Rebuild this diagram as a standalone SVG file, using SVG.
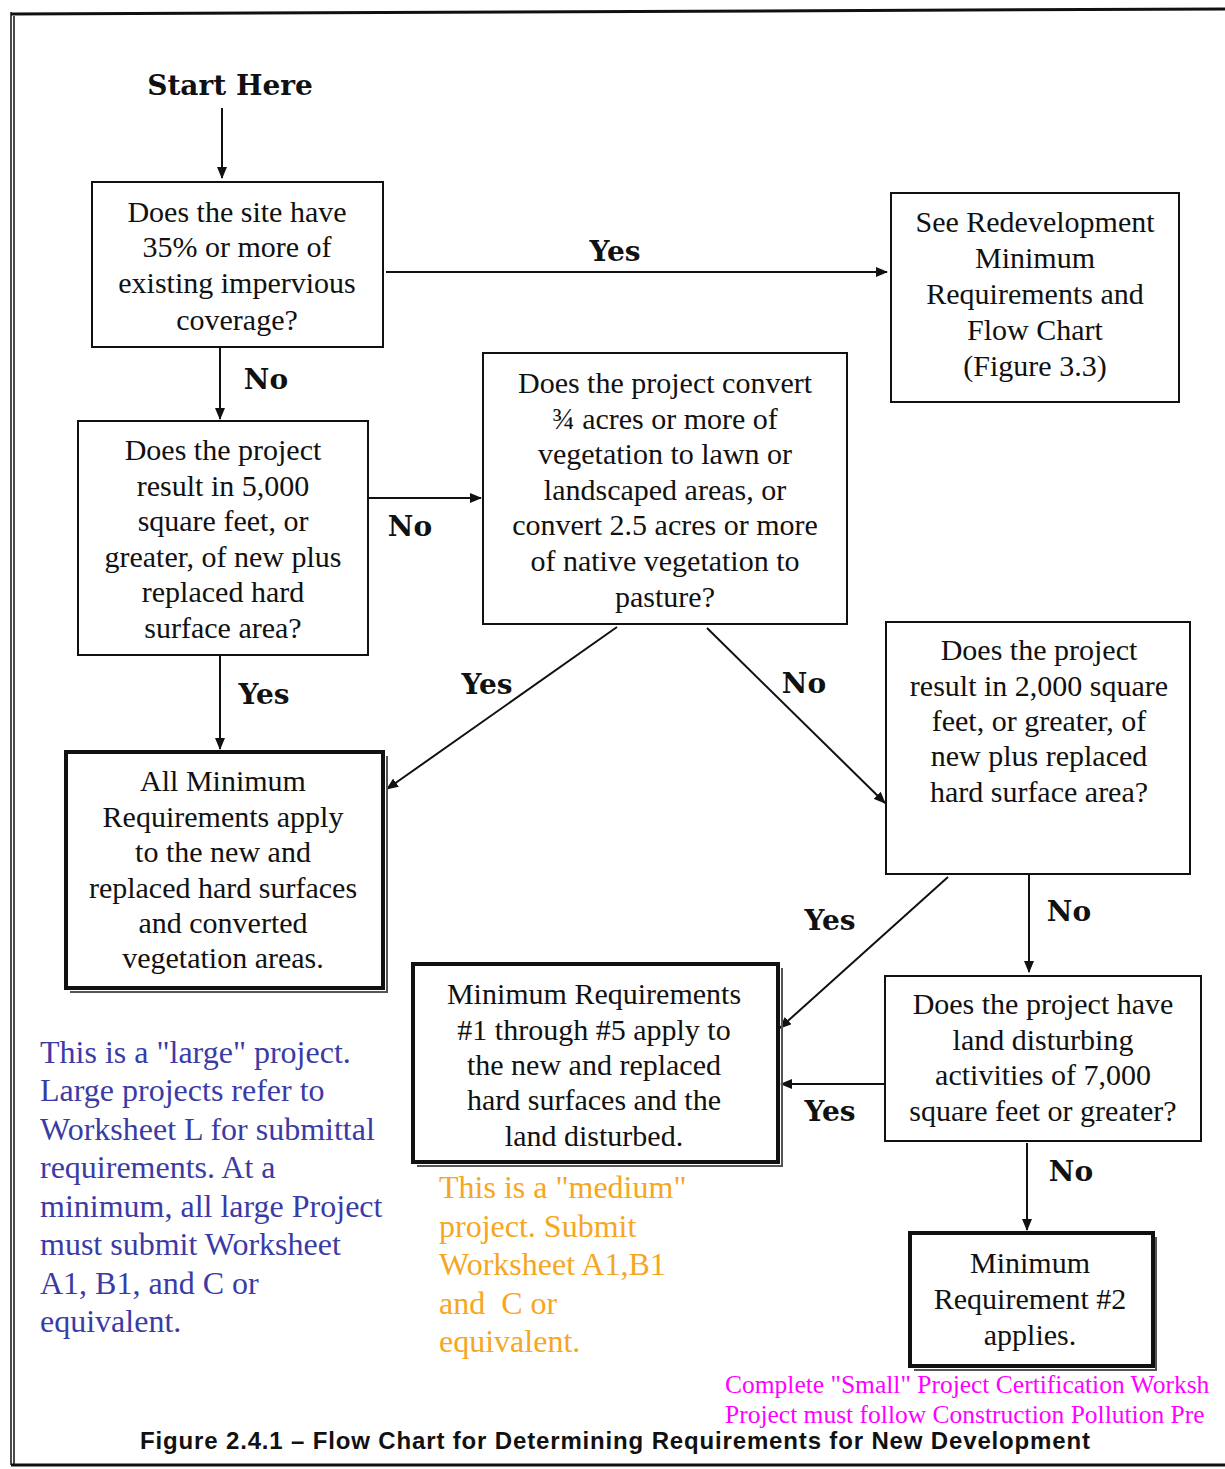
<svg xmlns="http://www.w3.org/2000/svg" width="1225" height="1469" viewBox="0 0 1225 1469">
<defs>
<marker id="ah" markerWidth="12" markerHeight="10" refX="11" refY="5" orient="auto" markerUnits="userSpaceOnUse">
<path d="M0,0 L12,5 L0,10 Z" fill="#111"/>
</marker>
<style>
.bx{fill:#fff;stroke:#111;stroke-width:2}
.tk{fill:#fff;stroke:#111;stroke-width:4}
.sh{fill:none;stroke:#555;stroke-width:2}
.t{font-family:"Liberation Serif","Times New Roman",serif;font-size:30px;fill:#111;text-anchor:middle}
.lb{font-family:"DejaVu Serif",serif;font-weight:bold;font-size:28px;fill:#111;text-anchor:middle}
.c{fill:none;stroke:#111;stroke-width:2;marker-end:url(#ah)}
.blue{font-family:"Liberation Serif",serif;font-size:32px;fill:#3b3ba6}
.orange{font-family:"Liberation Serif",serif;font-size:32px;fill:#f5a623}
.pink{font-family:"Liberation Serif",serif;font-size:25.5px;fill:#ff00ff}
</style>
</defs>
<rect width="1225" height="1469" fill="#fff"/>
<g id="frame" fill="none" stroke="#111">
<path d="M11,14 L1225,9" stroke-width="3"/>
<path d="M11,12 L11,1465 M14,16 L14,1465" stroke-width="1.5"/>
<path d="M11,1465 L1225,1465" stroke-width="3"/>
</g>
<g id="connectors">
<path class="c" d="M222,108 L222,178"/>
<path class="c" d="M386,272 L887,272"/>
<path class="c" d="M220,347 L220,419"/>
<path class="c" d="M369,498 L481,498"/>
<path class="c" d="M220,655 L220,749"/>
<path class="c" d="M617,627 L387,789"/>
<path class="c" d="M707,628 L885,803"/>
<path class="c" d="M948,877 L780,1028"/>
<path class="c" d="M1029,874 L1029,972"/>
<path class="c" d="M885,1084 L781,1084"/>
<path class="c" d="M1027,1143 L1027,1230"/>
<text class="lb" x="230" y="95">Start Here</text>
<text class="lb" x="615" y="261">Yes</text>
<text class="lb" x="266" y="389">No</text>
<text class="lb" x="410" y="536">No</text>
<text class="lb" x="264" y="704">Yes</text>
<text class="lb" x="487" y="694">Yes</text>
<text class="lb" x="804" y="693">No</text>
<text class="lb" x="830" y="930">Yes</text>
<text class="lb" x="1069" y="921">No</text>
<text class="lb" x="830" y="1121">Yes</text>
<text class="lb" x="1071" y="1181">No</text>
</g>
<g id="n1">
<rect class="bx" x="92" y="182" width="291" height="165"/>
<text class="t" x="237" y="222">Does the site have</text>
<text class="t" x="237" y="257">35% or more of</text>
<text class="t" x="237" y="293">existing impervious</text>
<text class="t" x="237" y="330">coverage?</text>
</g>
<g id="n2">
<rect class="bx" x="891" y="193" width="288" height="209"/>
<text class="t" x="1035" y="232">See Redevelopment</text>
<text class="t" x="1035" y="268">Minimum</text>
<text class="t" x="1035" y="304">Requirements and</text>
<text class="t" x="1035" y="340">Flow Chart</text>
<text class="t" x="1035" y="376">(Figure 3.3)</text>
</g>
<g id="n3">
<rect class="bx" x="78" y="421" width="290" height="234"/>
<text class="t" x="223" y="460">Does the project</text>
<text class="t" x="223" y="496">result in 5,000</text>
<text class="t" x="223" y="531">square feet, or</text>
<text class="t" x="223" y="567">greater, of new plus</text>
<text class="t" x="223" y="602">replaced hard</text>
<text class="t" x="223" y="638">surface area?</text>
</g>
<g id="n4">
<rect class="bx" x="483" y="353" width="364" height="271"/>
<text class="t" x="665" y="393">Does the project convert</text>
<text class="t" x="665" y="429">¾ acres or more of</text>
<text class="t" x="665" y="464">vegetation to lawn or</text>
<text class="t" x="665" y="500">landscaped areas, or</text>
<text class="t" x="665" y="535">convert 2.5 acres or more</text>
<text class="t" x="665" y="571">of native vegetation to</text>
<text class="t" x="665" y="607">pasture?</text>
</g>
<g id="n5">
<path class="sh" d="M387,756 L387,992 L70,992"/>
<rect class="tk" x="66" y="752" width="317" height="236"/>
<text class="t" x="223" y="791">All Minimum</text>
<text class="t" x="223" y="827">Requirements apply</text>
<text class="t" x="223" y="862">to the new and</text>
<text class="t" x="223" y="898">replaced hard surfaces</text>
<text class="t" x="223" y="933">and converted</text>
<text class="t" x="223" y="968">vegetation areas.</text>
</g>
<g id="n6">
<rect class="bx" x="886" y="622" width="304" height="252"/>
<text class="t" x="1039" y="660">Does the project</text>
<text class="t" x="1039" y="696">result in 2,000 square</text>
<text class="t" x="1039" y="731">feet, or greater, of</text>
<text class="t" x="1039" y="766">new plus replaced</text>
<text class="t" x="1039" y="802">hard surface area?</text>
</g>
<g id="n7">
<path class="sh" d="M782,968 L782,1166 L417,1166"/>
<rect class="tk" x="413" y="964" width="365" height="198"/>
<text class="t" x="594" y="1004">Minimum Requirements</text>
<text class="t" x="594" y="1040">#1 through #5 apply to</text>
<text class="t" x="594" y="1075">the new and replaced</text>
<text class="t" x="594" y="1110">hard surfaces and the</text>
<text class="t" x="594" y="1146">land disturbed.</text>
</g>
<g id="n8">
<rect class="bx" x="885" y="976" width="316" height="165"/>
<text class="t" x="1043" y="1014">Does the project have</text>
<text class="t" x="1043" y="1050">land disturbing</text>
<text class="t" x="1043" y="1085">activities of 7,000</text>
<text class="t" x="1043" y="1121">square feet or greater?</text>
</g>
<g id="n9">
<path class="sh" d="M1156,1237 L1156,1370 L914,1370"/>
<rect class="tk" x="910" y="1233" width="243" height="133"/>
<text class="t" x="1030" y="1273">Minimum</text>
<text class="t" x="1030" y="1309">Requirement #2</text>
<text class="t" x="1030" y="1345">applies.</text>
</g>
<g id="notes">
<text class="blue" x="40" y="1063">This is a "large" project.</text>
<text class="blue" x="40" y="1101">Large projects refer to</text>
<text class="blue" x="40" y="1140">Worksheet L for submittal</text>
<text class="blue" x="40" y="1178">requirements. At a</text>
<text class="blue" x="40" y="1217">minimum, all large Project</text>
<text class="blue" x="40" y="1255">must submit Worksheet</text>
<text class="blue" x="40" y="1294">A1, B1, and C or</text>
<text class="blue" x="40" y="1332">equivalent.</text>
<text class="orange" x="439" y="1198">This is a "medium"</text>
<text class="orange" x="439" y="1237">project. Submit</text>
<text class="orange" x="439" y="1275">Worksheet A1,B1</text>
<text class="orange" x="439" y="1314" xml:space="preserve">and  C or</text>
<text class="orange" x="439" y="1352">equivalent.</text>
<text class="pink" x="725" y="1393">Complete "Small" Project Certification Worksh</text>
<text class="pink" x="725" y="1423">Project must follow Construction Pollution Pre</text>
</g>
<text x="140" y="1449" font-family="Liberation Sans,Arial,sans-serif" font-weight="bold" font-size="24" fill="#111" textLength="950">Figure 2.4.1 – Flow Chart for Determining Requirements for New Development</text>
</svg>
